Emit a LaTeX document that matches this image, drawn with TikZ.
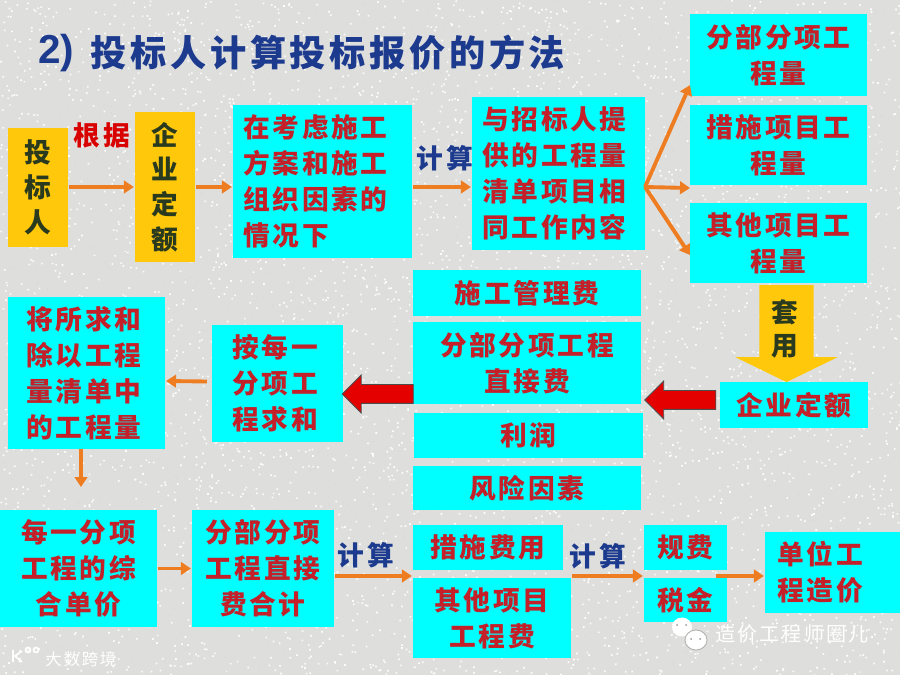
\documentclass[tikz,border=0pt]{standalone}
\usepackage{fontspec}
\setmainfont[LetterSpace=10]{Noto Sans CJK SC}
\newfontfamily\latinfont{Liberation Sans}
\usetikzlibrary{arrows.meta, positioning, shapes.arrows}
\definecolor{cbg}{HTML}{DEDEDC}
\definecolor{ccyan}{HTML}{00FFFF}
\definecolor{cgold}{HTML}{FFC80A}
\definecolor{cred}{HTML}{C4202A}
\definecolor{cdark}{HTML}{2A3A1E}
\definecolor{cnavy}{HTML}{1C3A8E}
\definecolor{corange}{HTML}{EE7D22}
\tikzset{
  every picture/.style={font=\bfseries, line width=1.2pt},
  cbox/.style={fill=ccyan, text=cred, align=#1, inner sep=0pt, font=\bfseries\fontsize{15.2}{20.4}\selectfont},
  cbox/.default=center,
  gbox/.style={fill=cgold, text=cdark, align=center, inner sep=0pt, font=\bfseries\fontsize{15.2}{19.8}\selectfont},
  arrow/.style={-{Triangle[length=2mm,width=2.5mm]}, draw=corange, line width=2.2pt},
  redarrow/.style={single arrow, draw=black!70, line width=0.5pt, fill=red!90!black, text height=0.36cm, minimum height=1.42cm, minimum width=0.74cm, single arrow head extend=0.19cm, inner sep=0pt, shape border rotate=180},
  lab/.style={inner sep=0pt, font=\bfseries\fontsize{15.2}{18}\selectfont},
  mark text/.style={inner sep=0pt, text=white, font=\mdseries\fontsize{9.4}{12}\selectfont},
}
\begin{document}
\begin{tikzpicture}[x=0.02cm, y=-0.02cm]
  \useasboundingbox (0,0) rectangle (900,675);
  % ---- background
  \fill[cbg] (0,0) rectangle (900,675);
  \pgfmathsetseed{11}
  \foreach \b in {1,...,5} {
    \fill[white!90!cbg] \foreach \i in {1,...,1000} {(900*rnd,675*rnd) rectangle ++(1.7,1.7)};
    \fill[black!14] \foreach \i in {1,...,600} {(900*rnd,675*rnd) rectangle ++(1.4,1.4)};
  }
  % ---- title
  \node[inner sep=0pt, text=cnavy, font=\latinfont\bfseries\fontsize{23}{26}\selectfont] (num) at (56,53) {2)};
  \node[inner sep=0pt, text=cnavy, font=\bfseries\fontsize{20.6}{24}\selectfont] (title) at (328,53) {投标人计算投标报价的方法};
  % ---- top row
  \node[gbox, minimum width=1.2cm, minimum height=2.38cm] (tbr) at (38,187.5) {投\\标\\人};
  \node[gbox, minimum width=1.2cm, minimum height=3cm] (qy) at (165,187) {企\\业\\定\\额};
  \node[cbox=left, minimum width=3.58cm, minimum height=3.06cm, text width=3.16cm] (kl) at (322.5,181.5) {在考虑施工\\方案和施工\\组织因素的\\情况下};
  \node[cbox=left, minimum width=3.46cm, minimum height=3.06cm, text width=3.04cm] (yz) at (558.5,173.5) {与招标人提\\供的工程量\\清单项目相\\同工作内容};
  \node[cbox, minimum width=3.54cm, minimum height=1.64cm] (fb) at (778.5,55) {分部分项工\\程量};
  \node[cbox, minimum width=3.54cm, minimum height=1.6cm] (cs) at (778.5,145) {措施项目工\\程量};
  \node[cbox, minimum width=3.54cm, minimum height=1.6cm] (qt) at (778.5,243) {其他项目工\\程量};
  % ---- middle row
  \node[cbox, minimum width=4.56cm, minimum height=0.92cm] (sg) at (527,293) {施工管理费};
  \node[cbox, minimum width=4.56cm, minimum height=1.64cm] (fx) at (527,363) {分部分项工程\\直接费};
  \node[cbox, minimum width=4.58cm, minimum height=0.9cm] (lr) at (528.5,435.5) {利润};
  \node[cbox, minimum width=4.56cm, minimum height=0.88cm] (fc) at (527,488) {风险因素};
  \node[cbox, minimum width=2.96cm, minimum height=0.92cm] (qe) at (794,405) {企业定额};
  \node[cbox=left, minimum width=2.62cm, minimum height=2.34cm, text width=1.8cm] (hj) at (277.5,383.5) {按每一\\分项工\\程求和};
  \node[cbox=left, minimum width=3.14cm, minimum height=3.04cm, text width=2.4cm] (js) at (86.5,373) {将所求和\\除以工程\\量清单中\\的工程量};
  % ---- bottom row
  \node[cbox, minimum width=3.14cm, minimum height=2.34cm] (zh) at (78.5,568.5) {每一分项\\工程的综\\合单价};
  \node[cbox, minimum width=2.84cm, minimum height=2.34cm] (hz) at (263,568.5) {分部分项\\工程直接\\费合计};
  \node[cbox, minimum width=3cm, minimum height=0.9cm] (csf) at (488,547.5) {措施费用};
  \node[cbox, minimum width=3.16cm, minimum height=1.6cm] (qtf) at (492,618) {其他项目\\工程费};
  \node[cbox, minimum width=1.66cm, minimum height=0.9cm] (gf) at (685.5,547.5) {规费};
  \node[cbox, minimum width=1.66cm, minimum height=0.88cm] (sj) at (685.5,600) {税金};
  \node[cbox=left, minimum width=2.7cm, minimum height=1.62cm, text width=2.2cm] (dw) at (832.5,572.5) {单位工\\程造价};
  % ---- free ends of the connectors
  \coordinate (topline) at (450,187);
  \coordinate (fan) at (645,187);
  \coordinate (fbin) at (690,85);
  \coordinate (csin) at (690,188);
  \coordinate (qtin) at (690,255);
  \coordinate (lowline) at (450,576);
  \coordinate (down1) at (81,449);
  \coordinate (down2) at (81,487);
  \coordinate (pay) at (716,576);
  % ---- connectors
  \draw[arrow] (tbr.east |- topline) -- (qy.west |- topline);
  \draw[arrow] (qy.east |- topline) -- (kl.west |- topline);
  \draw[arrow] (kl.east |- topline) -- (yz.west |- topline);
  \draw[arrow] (fan) -- (fbin);
  \draw[arrow] (fan) -- (csin);
  \draw[arrow] (fan) -- (qtin);
  \draw[arrow] (hj.west) ++(-4,-2) -- (js.east |- 0,381);
  \draw[arrow] (down1) -- (down2);
  \draw[arrow] (zh.east) -- (hz.west);
  \draw[arrow] (hz.east |- lowline) -- (qtf.west |- lowline);
  \draw[arrow] (qtf.east |- lowline) -- (sj.west |- lowline);
  \draw[arrow] (pay) -- (dw.west |- lowline);
  % ---- block arrows
  \node[redarrow] (ra1) at (685,400) {};
  \node[redarrow] (ra2) at (382.5,394) {};
  \node[single arrow, fill=cgold, shape border rotate=270, inner sep=0pt, text width=1.04cm, minimum height=1.94cm, minimum width=2cm, single arrow head extend=0.48cm, single arrow tip angle=128] (ya) at (786.5,327) {};
  \node[lab, text=cdark, align=center, font=\bfseries\fontsize{15.2}{18.8}\selectfont] (ty) at (785,329) {套\\用};
  % ---- labels on the arrows
  \node[lab, text=red!85!black] (gj) at (102,135) {根据};
  \node[lab, text=cnavy] (js1) at (445,158) {计算};
  \node[lab, text=cnavy] (js2) at (366,555) {计算};
  \node[lab, text=cnavy] (js3) at (598,556) {计算};
  % ---- marks in the corners
  \fill[white] (682,627) ellipse (10 and 9.5);
  \draw[black!30, fill=white, line width=0.5pt] (696,640) ellipse (11 and 10);
  \fill[black!40] (677,625) circle (1) (686,625) circle (1) (691,639) circle (1) (700,639) circle (1);
  \node[mark text, font=\mdseries\fontsize{11.4}{14}\selectfont] (wm) at (792,634) {造价工程师圈儿};
  \draw[white, line width=1pt] (13,650) -- (13,662) (22,651) -- (15,656) -- (22,662) (28,650) circle (2.5) (36,650) circle (2.5);
  \node[mark text] (wm2) at (81,659) {大数跨境};
\end{tikzpicture}
\end{document}
